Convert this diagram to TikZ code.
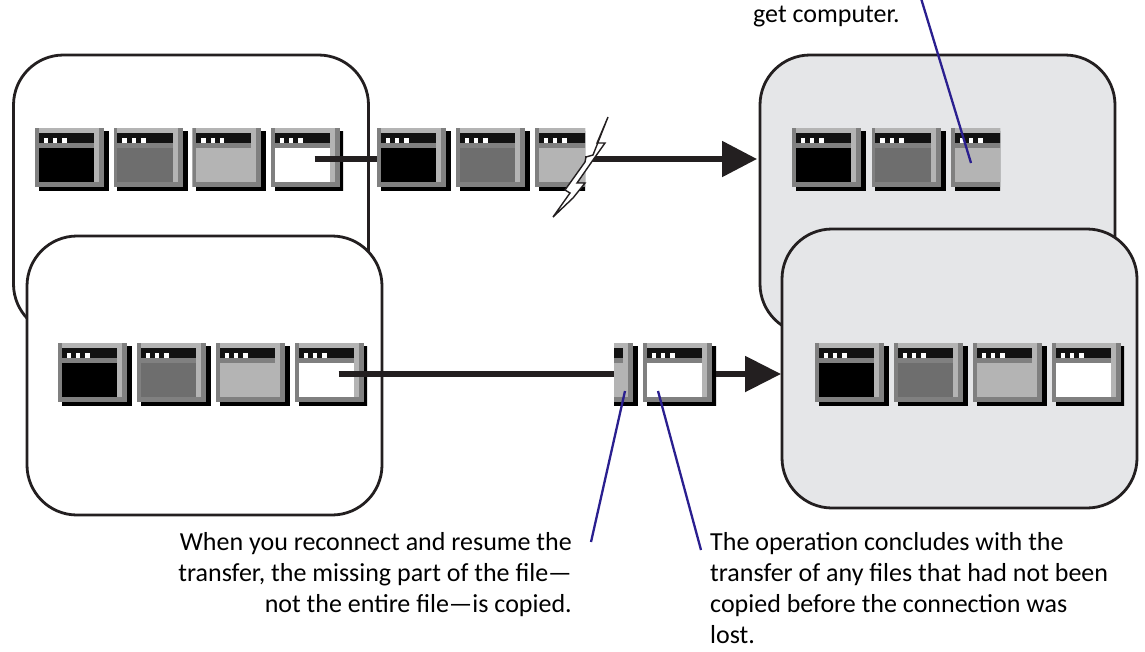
\documentclass[tikz,border=0pt]{standalone}
\usepackage{fontspec}
\setmainfont{Carlito}
\usetikzlibrary{arrows.meta}

\definecolor{inkdark}{HTML}{231F20}
\definecolor{paneldark}{HTML}{6E6E6E}
\definecolor{panellight}{HTML}{B4B4B4}
\definecolor{framegray}{HTML}{808080}
\definecolor{targetgray}{HTML}{E5E6E8}
\definecolor{leaderblue}{HTML}{2A1F8F}

\tikzset{
  pics/window/.style n args={3}{code={
    \begin{scope}
      \clip (#2,-1) rectangle (#3,65);
      \fill[black] (3.7,3) rectangle (74,63);
      \fill[framegray] (0,0) rectangle (69,59);
      \fill[panellight] (3.7,0) rectangle (64,54);
      \fill[black!93] (3.7,5) rectangle (59,15);
      \fill[framegray] (3.7,15) rectangle (59,20);
      \fill[#1] (3.7,20) rectangle (59,54);
      \foreach \dot/\wd in {8.7/4.6,18.3/4,27.3/4.7}
        \fill[white] (\dot,10) rectangle (\dot+\wd,15);
    \end{scope}
    \coordinate (-hook) at (43.5,31);
    \coordinate (-in) at (#2,31);
    \coordinate (-out) at (#3,31);
  }}
}

\begin{document}
\begin{tikzpicture}[x=1pt,y=-1pt]
    \tikzstyle{computer}=[rectangle,draw=inkdark,line width=2.8pt,rounded corners=50pt,minimum width=355pt,minimum height=279pt,outer sep=0pt]
    \tikzstyle{source}=[computer,fill=white]
    \tikzstyle{target}=[computer,fill=targetgray]
    \tikzstyle{flow}=[draw=inkdark,line width=5.4pt]
    \tikzstyle{leader}=[draw=leaderblue,line width=2.3pt]
    \tikzstyle{note}=[inner sep=0pt,font=\fontsize{26}{31}\selectfont,text=black]

    \clip (0,0) rectangle (1145,651);

    % Draw the computers of the interrupted transfer
    \node[source] (S-1) at (191,194.5) {};
    \node[target] (T-1) at (937.5,194.5) {};

    % Draw the windows of the interrupted transfer
    \foreach \name/\col/\w in {1/black/75,2/paneldark/75,3/panellight/75,4/white/72}
        \pic (a-\name) at (35+78.7*\name-78.7,128) {window={\col}{0}{\w}};
    \foreach \name/\col/\w in {1/black/75,2/paneldark/75,3/panellight/50}
        \pic (b-\name) at (377+79*\name-79,128) {window={\col}{0}{\w}};
    \foreach \name/\col/\w in {1/black/75,2/paneldark/75,3/panellight/49}
        \pic (e-\name) at (792+79.5*\name-79.5,128) {window={\col}{0}{\w}};

    % Connect the source to the target
    \path[flow] (a-4-hook) -- (b-1-in);
    \path[flow,-{Triangle[length=35pt,width=35pt]},shorten >=3pt] (b-3-out) -- (b-3-out -| T-1.west);

    % The broken connection
    \filldraw[fill=white,draw=inkdark,line width=1.4pt,line join=miter] (608,117) -- (597,143) -- (605,143) -- (593,160) -- (577,183) -- (585,183) -- (573,198) -- (553,217) -- (570,193) -- (565,190) -- (585,162) -- (586,157) -- (593,155) -- cycle;

    % Draw the computers of the resumed transfer
    \node[source] (S-2) at (204.5,375.5) {};
    \node[target] (T-2) at (959.5,368.5) {};

    % Draw the windows of the resumed transfer
    \foreach \name/\col/\w in {1/black/75,2/paneldark/75,3/panellight/75,4/white/72}
        \pic (c-\name) at (58+79*\name-79,343) {window={\col}{0}{\w}};
    \foreach \name/\col/\w in {1/black/75,2/paneldark/75,3/panellight/75,4/white/72}
        \pic (f-\name) at (815+79*\name-79,343) {window={\col}{0}{\w}};
    \pic (d-1) at (564,343) {window={panellight}{50}{75}};
    \pic (d-2) at (643,343) {window={white}{0}{73}};

    \path[flow] (c-4-hook) -- (d-1-in);
    \path[flow,-{Triangle[length=36pt,width=35pt]},shorten >=1pt] (d-2-out) -- (d-2-out -| T-2.west);

    % Annotate the transfer
    \node[note,anchor=base west] (got) at (753,22.5) {get computer.};
    \node[note,anchor=north east,align=right] (resume) at (572,532)
        {When you reconnect and resume the\\transfer, the missing part of the file—\\not the entire file—is copied.};
    \node[note,anchor=north west,align=left] (concludes) at (710,532)
        {The operation concludes with the\\transfer of any files that had not been\\copied before the connection was\\lost.};

    % Leaders from the notes to the windows
    \coordinate (top end) at (920,-5);
    \coordinate (top tip) at (971,163);
    \coordinate (resume end) at (591,542);
    \coordinate (resume tip) at (625,391);
    \coordinate (concludes end) at (701,550);
    \coordinate (concludes tip) at (658,391);
    \path[leader] (top end) -- (top tip);
    \path[leader] (resume end) -- (resume tip);
    \path[leader] (concludes end) -- (concludes tip);
\end{tikzpicture}
\end{document}
